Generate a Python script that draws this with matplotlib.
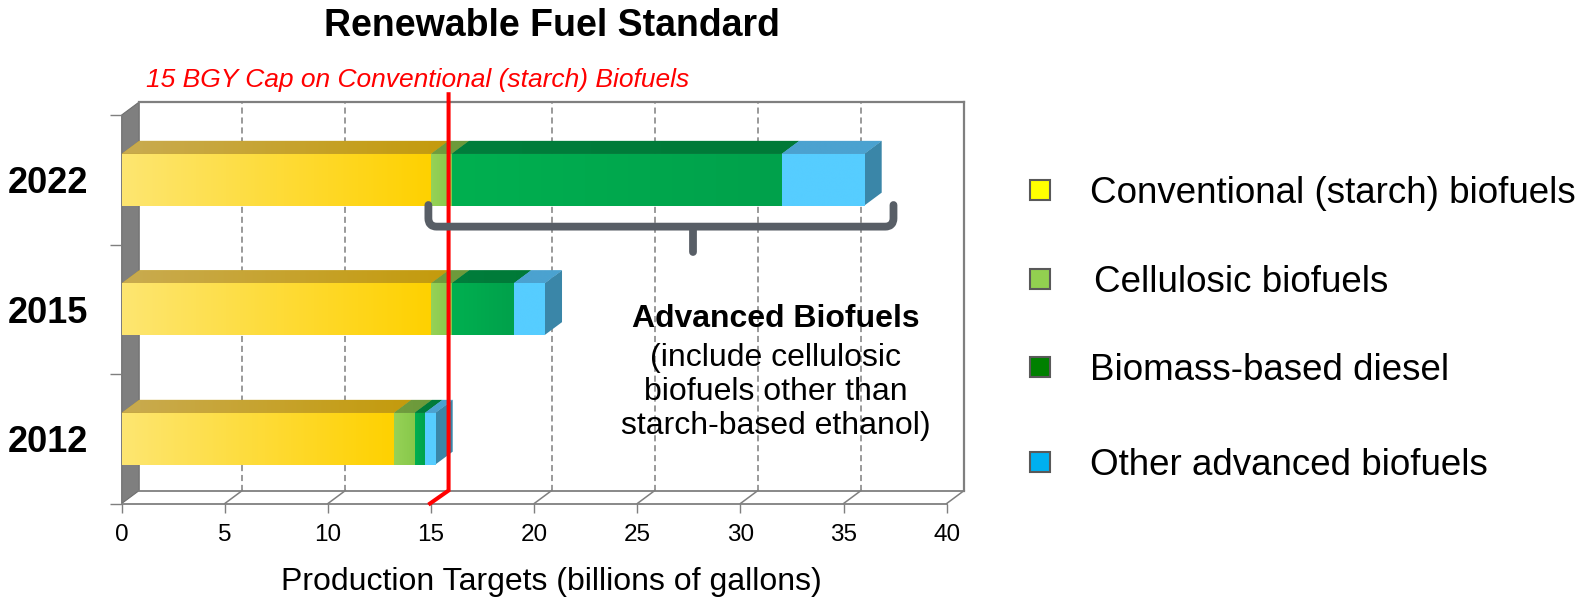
import numpy as np
import matplotlib
matplotlib.use("Agg")
import matplotlib.pyplot as plt
from matplotlib.patches import Polygon, Rectangle
from matplotlib.path import Path
from matplotlib.patches import PathPatch
from matplotlib.colors import to_rgb

plt.rcParams['font.family'] = ['Liberation Sans', 'DejaVu Sans']

# ---- data (billions of gallons) ----
years = ["2012", "2015", "2022"]
conventional = [13.2, 15.0, 15.0]
cellulosic = [1.0, 1.0, 1.0]
biomass_diesel = [0.5, 3.0, 16.0]
other_advanced = [0.5, 1.5, 4.0]
x_ticks = [0, 5, 10, 15, 20, 25, 30, 35, 40]
cap_value = 15
legend_labels = ["Conventional (starch) biofuels", "Cellulosic biofuels",
                 "Biomass-based diesel", "Other advanced biofuels"]
legend_colors = ["#FFFF00", "#92D050", "#008000", "#00B0F0"]

W, H = 1595, 599
fig = plt.figure(figsize=(W / 100, H / 100), dpi=100)
fig.patch.set_facecolor("white")


def fx(px):
    return px / W


def fy(py):
    return 1 - py / H


# front plane of the 3-D box
ax = fig.add_axes([fx(121.7), fy(503.5), 825 / W, 388.5 / H])
XMAX, YMAX = 40, 3
ax.set_xlim(0, XMAX)
ax.set_ylim(0, YMAX)
ax.set_facecolor("none")

# depth offset of the back plane, in data units
DX = 17.5 * XMAX / 825
DY = 13.0 * YMAX / 388.5
GRAY = "#7F7F7F"

for s in ["top", "right", "left"]:
    ax.spines[s].set_visible(False)
ax.spines["bottom"].set_color(GRAY)
ax.spines["bottom"].set_linewidth(1.3)
ax.spines["bottom"].set_zorder(2)

ax.set_xticks(x_ticks)
ax.set_xticklabels([str(v) for v in x_ticks], fontsize=17.5)
ax.tick_params(axis="x", direction="out", length=6.5, width=1.0, color=GRAY, pad=8)

ypos = np.arange(len(years)) + 0.5
ax.set_yticks(np.arange(len(years) + 1))
ax.set_yticklabels([])
ax.tick_params(axis="y", which="major", direction="out", length=8.5, width=1.0, color=GRAY)
ax.set_yticks(ypos, minor=True)
ax.set_yticklabels(years, minor=True, fontsize=26, fontweight="bold")
ax.tick_params(axis="y", which="minor", length=0, pad=24)

# ---- box: side wall, back wall, floor ----
side = Polygon([(0, 0), (0, YMAX), (DX, YMAX + DY), (DX, DY)], closed=True,
               facecolor=GRAY, edgecolor="#6E6E6E", lw=0.8, zorder=1, clip_on=False)
ax.add_patch(side)
ax.plot([DX, XMAX + DX], [YMAX + DY, YMAX + DY], color=GRAY, lw=1.6, zorder=1, clip_on=False)
ax.plot([XMAX + DX, XMAX + DX], [DY, YMAX + DY], color=GRAY, lw=1.6, zorder=1, clip_on=False)
ax.plot([DX, XMAX + DX], [DY, DY], color=GRAY, lw=1.3, zorder=1, clip_on=False)
for v in x_ticks[1:]:
    ax.plot([v, v + DX], [0, DY], color=GRAY, lw=1.1, zorder=1, clip_on=False)
for v in x_ticks[1:-1]:
    ax.plot([v + DX, v + DX], [DY, YMAX + DY], color=GRAY, lw=1.1,
            ls=(0, (4, 2.5)), zorder=1, clip_on=False)

# ---- bars ----
BAR_H = 0.40
segments = [conventional, cellulosic, biomass_diesel, other_advanced]
front_cols = [("#FDE671", "#FFD100"), ("#96D257", "#88C84A"),
              ("#00B050", "#00A14B"), ("#56CDFF", "#56CDFF")]
top_cols = [("#C9AB50", "#C49B0C"), ("#709D3E", "#6C993A"),
            ("#007E3C", "#007937"), ("#4BA2D0", "#4BA2D0")]
SIDE_COL = "#3A86A8"


def gradient_fill(patch, extent, c0, c1, z):
    g = np.linspace(0, 1, 256)[None, :, None]
    img = (1 - g) * np.array(to_rgb(c0)) + g * np.array(to_rgb(c1))
    im = ax.imshow(img, extent=extent, aspect="auto", zorder=z,
                   interpolation="bilinear", origin="lower")
    im.set_clip_path(patch)


lefts = np.zeros(len(years))
for k, vals in enumerate(segments):
    vals = np.array(vals, dtype=float)
    bars = ax.barh(ypos, vals, left=lefts, height=BAR_H, color=front_cols[k][1],
                   lw=0, zorder=4)
    for i, b in enumerate(bars):
        l, r = lefts[i], lefts[i] + vals[i]
        yb, yt = ypos[i] - BAR_H / 2, ypos[i] + BAR_H / 2
        gradient_fill(b, (l, r, yb, yt), front_cols[k][0], front_cols[k][1], 4.1)
        top = Polygon([(l, yt), (r, yt), (r + DX, yt + DY), (l + DX, yt + DY)],
                      closed=True, facecolor=top_cols[k][1], lw=0, zorder=3)
        ax.add_patch(top)
        gradient_fill(top, (l, r + DX, yt, yt + DY), top_cols[k][0], top_cols[k][1], 3.1)
        if k == len(segments) - 1:
            sd = Polygon([(r, yb), (r, yt), (r + DX, yt + DY), (r + DX, yb + DY)],
                         closed=True, facecolor=SIDE_COL, lw=0, zorder=3)
            ax.add_patch(sd)
    lefts = lefts + vals

ax.set_xlim(0, XMAX)
ax.set_ylim(0, YMAX)

# ---- conventional cap line ----
ax.plot([cap_value - 0.05, cap_value + DX, cap_value + DX],
        [0, DY, YMAX + DY + 0.06], color="#FF0000", lw=2.9,
        solid_joinstyle="miter", zorder=6, clip_on=False)

# ---- brace over the advanced share of 2022 ----
bl, br, bc = 14.87, 37.42, 27.7
btop, bmid, btip = 2.305, 2.138, 1.945
rx, ry = 0.40, 0.065
verts = [(bl, btop), (bl, bmid + ry), (bl, bmid), (bl + rx, bmid),
         (br - rx, bmid), (br, bmid), (br, bmid + ry), (br, btop)]
codes = [Path.MOVETO, Path.LINETO, Path.CURVE3, Path.CURVE3,
         Path.LINETO, Path.CURVE3, Path.CURVE3, Path.LINETO]
ax.add_patch(PathPatch(Path(verts, codes), facecolor="none", edgecolor="#585E66",
                       lw=5.6, capstyle="round", joinstyle="round", zorder=7,
                       clip_on=False))
ax.plot([bc, bc], [bmid, btip], color="#585E66", lw=5.6,
        solid_capstyle="round", zorder=7)

# ---- texts ----
fig.text(fx(552), fy(36.5), "Renewable Fuel Standard", ha="center", va="baseline",
         fontsize=27, fontweight="bold")
fig.text(fx(145.5), fy(87.5), "15 BGY Cap on Conventional (starch) Biofuels",
         ha="left", va="baseline", fontsize=19, style="italic", color="#FF0000")
fig.text(fx(776), fy(327), "Advanced Biofuels", ha="center", va="baseline",
         fontsize=23, fontweight="bold")
for line, base in zip(["(include cellulosic", "biofuels other than",
                       "starch-based ethanol)"], [366, 400, 434]):
    fig.text(fx(776), fy(base), line, ha="center", va="baseline", fontsize=23)
fig.text(fx(551), fy(590), "Production Targets (billions of gallons)",
         ha="center", va="baseline", fontsize=23)

# ---- legend ----
leg_y = [190, 279, 367, 462]
leg_x = [1090, 1094, 1090, 1090]
for lab, col, cy, tx in zip(legend_labels, legend_colors, leg_y, leg_x):
    fig.patches.append(Rectangle((fx(1030), fy(cy + 10)), 20 / W, 20 / H,
                                 transform=fig.transFigure, facecolor=col,
                                 edgecolor="#595959", lw=1.5))
    fig.text(fx(tx), fy(cy + 13), lab, ha="left", va="baseline", fontsize=26.5)

fig.savefig("out.png", dpi=100)
